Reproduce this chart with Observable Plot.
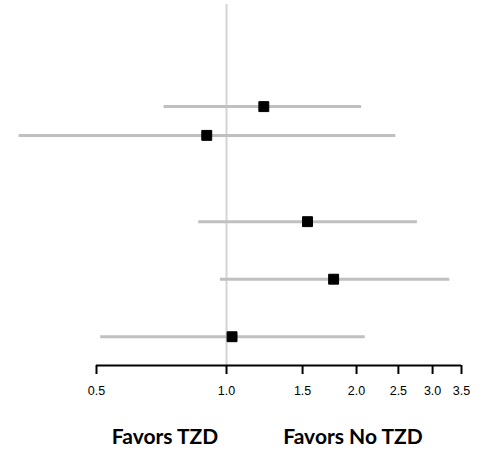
<!DOCTYPE html>
<html>
<head>
<meta charset="utf-8">
<script src="https://cdn.jsdelivr.net/npm/d3@7"></script>
<script src="https://cdn.jsdelivr.net/npm/@observablehq/plot@0.6"></script>
<style>
  html, body { margin: 0; padding: 0; background: #fff; }
</style>
</head>
<body>
<div id="chart"></div>
<script>
// Data
const rows = [1, 2, 5, 7, 9];
const estimates = [1.22, 0.90, 1.54, 1.77, 1.03];
const lowers = [0.715, 0.33, 0.86, 0.965, 0.51];
const uppers = [2.05, 2.46, 2.76, 3.28, 2.09];
const tickValues = [0.5, 1.0, 1.5, 2.0, 2.5, 3.0, 3.5];
const sideLabels = ["Favors TZD", "Favors No TZD"];

const data = rows.map((r, i) => ({row: r, est: estimates[i], lo: lowers[i], hi: uppers[i]}));

const chart = Plot.plot({
  width: 489,
  height: 452,
  marginLeft: 96,
  marginRight: 28,
  marginTop: 4,
  marginBottom: 87,
  style: {fontFamily: "'Liberation Sans', Arial, sans-serif", background: "#fff"},
  x: {type: "log", domain: [0.5, 3.5]},
  y: {domain: [-2.55, 10], reverse: true, axis: null},
  marks: [
    Plot.ruleX([1], {stroke: "#d4d4d4", strokeWidth: 2}),
    Plot.link(data, {x1: "lo", x2: "hi", y1: "row", y2: "row", stroke: "#c0c0c0", strokeWidth: 3}),
    Plot.dot(data, {x: "est", y: "row", symbol: "square", r: 5.6, fill: "#000", stroke: "#000", strokeWidth: 1, strokeLinejoin: "round"}),
    Plot.ruleY([10], {stroke: "#000", strokeWidth: 2}),
    Plot.axisX({
      ticks: tickValues,
      tickFormat: d3.format(".1f"),
      tickSize: 9,
      tickPadding: 12,
      stroke: "#000",
      strokeWidth: 2,
      fontSize: 12.5,
      fill: "#000",
      label: null
    }),
    Plot.text([sideLabels[0]], {frameAnchor: "bottom", dx: -114, dy: 78, text: d => d, fontSize: 21, fontWeight: "bold", fontFamily: "Lato, 'Open Sans', sans-serif", fill: "#000"}),
    Plot.text([sideLabels[1]], {frameAnchor: "bottom", dx: 74, dy: 78, text: d => d, fontSize: 21, fontWeight: "bold", fontFamily: "Lato, 'Open Sans', sans-serif", fill: "#000"})
  ]
});
document.getElementById("chart").appendChild(chart);
</script>
</body>
</html>
